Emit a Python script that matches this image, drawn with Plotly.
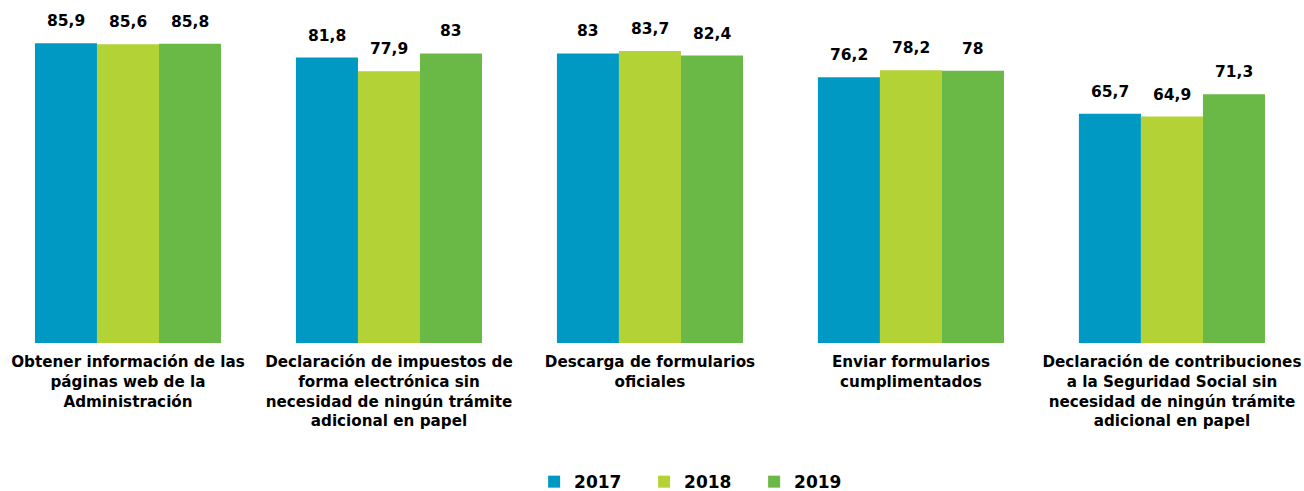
import plotly.graph_objects as go

categories = [
    "Obtener información de las<br>páginas web de la<br>Administración",
    "Declaración de impuestos de<br>forma electrónica sin<br>necesidad de ningún trámite<br>adicional en papel",
    "Descarga de formularios<br>oficiales",
    "Enviar formularios<br>cumplimentados",
    "Declaración de contribuciones<br>a la Seguridad Social sin<br>necesidad de ningún trámite<br>adicional en papel",
]
years = ["2017", "2018", "2019"]
values_2017 = [85.9, 81.8, 83.0, 76.2, 65.7]
values_2018 = [85.6, 77.9, 83.7, 78.2, 64.9]
values_2019 = [85.8, 83.0, 82.4, 78.0, 71.3]
series = [values_2017, values_2018, values_2019]
colors = ["#0099C4", "#B2D235", "#6AB946"]

FONT = "Verdana, DejaVu Sans, sans-serif"

def fmt(v):
    s = ("%.1f" % v).rstrip("0").rstrip(".")
    return s.replace(".", ",")

fig = go.Figure()
for name, vals, col in zip(years, series, colors):
    fig.add_trace(go.Bar(
        x=categories, y=vals, name="<b>%s</b>" % name,
        marker=dict(color=col, line=dict(width=0)),
    ))

annotations = []
for i, vals in enumerate(series):
    for c, v in zip(categories, vals):
        annotations.append(dict(
            x=c, y=v, text="<b>%s</b>" % fmt(v), showarrow=False,
            xanchor="center", yanchor="bottom", xshift=(i - 1) * 62, yshift=11,
            font=dict(family=FONT, size=15.5, color="#000000"),
        ))

fig.update_layout(
    width=1304, height=491,
    margin=dict(l=0, r=0, t=29, b=148, autoexpand=False),
    paper_bgcolor="white", plot_bgcolor="white",
    barmode="group", bargap=0.287, bargroupgap=0,
    font=dict(family=FONT, color="#000000"),
    annotations=annotations,
    showlegend=True,
    legend=dict(
        orientation="h", x=0.4096, xanchor="left", y=-0.443, yanchor="middle",
        font=dict(family=FONT, size=17, color="#000000"),
        entrywidth=65, entrywidthmode="pixels", itemwidth=30,
        traceorder="normal",
    ),
    xaxis=dict(
        showline=False, showgrid=False, ticks="", automargin=False,
        range=[-0.4904, 4.506],
        tickfont=dict(family=FONT, size=15.2, color="#000000"),
        tickprefix="<b>", ticksuffix="</b>", ticklabelstandoff=8,
    ),
    yaxis=dict(range=[0, 90], visible=False, automargin=False),
)

fig.write_html("out.html", config={"displayModeBar": False},
               post_script="document.body.style.margin='0';")
